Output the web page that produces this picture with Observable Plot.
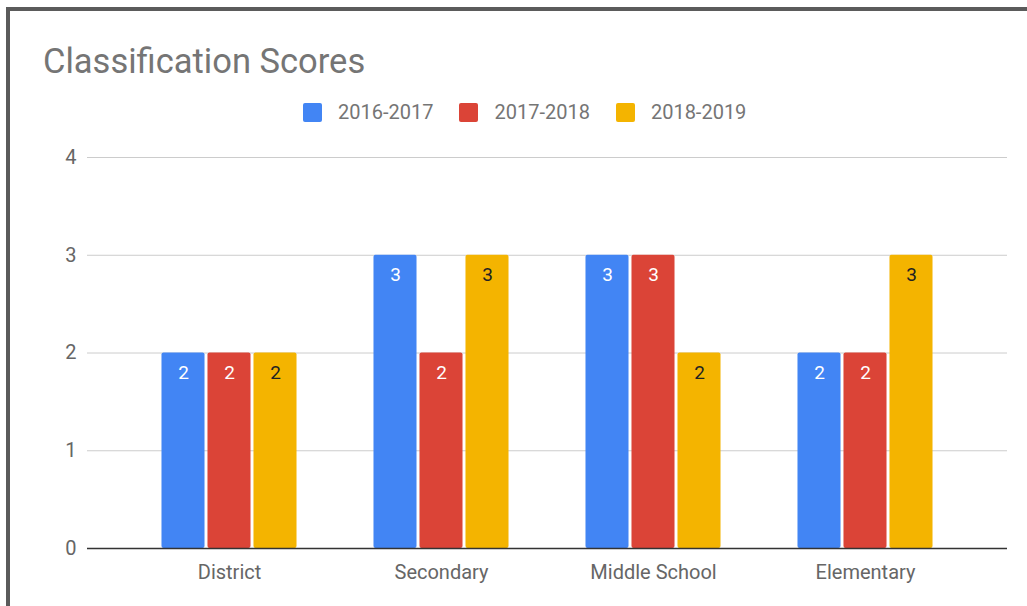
<!DOCTYPE html>
<html>
<head>
<meta charset="utf-8">
<script src="https://cdn.jsdelivr.net/npm/d3@7"></script>
<script src="https://cdn.jsdelivr.net/npm/@observablehq/plot@0.6"></script>
<style>
  html, body { margin: 0; padding: 0; background: #fff; }
  body { width: 1027px; height: 606px; position: relative; overflow: hidden; font-family: Roboto, sans-serif; }
  #frame { position: absolute; left: 6px; top: 7px; right: 0; bottom: 0; border-top: 4px solid #5b5b5b; border-left: 4px solid #5b5b5b; }
  #title { position: absolute; left: 43px; top: 44px; font-size: 34.5px; line-height: 34px; color: #757575; white-space: nowrap; }
  #legend { position: absolute; left: 303px; top: 103px; display: flex; align-items: center; font-size: 20px; color: #757575; line-height: 19px; }
  .item { display: flex; align-items: center; margin-right: 26px; }
  .sw { width: 19px; height: 19px; border-radius: 2px; margin-right: 16px; }
  #chart { position: absolute; left: 0; top: 140px; }
</style>
</head>
<body>
<div id="frame"></div>
<div id="title">Classification Scores</div>
<div id="legend"></div>
<div id="chart"></div>
<script>
const categories = ["District", "Secondary", "Middle School", "Elementary"];
const seriesNames = ["2016-2017", "2017-2018", "2018-2019"];
const values2016 = [2, 3, 3, 2];
const values2017 = [2, 2, 3, 2];
const values2018 = [2, 3, 2, 3];
const yTicks = [0, 1, 2, 3, 4];

const seriesValues = [values2016, values2017, values2018];
const colors = ["#4285f4", "#db4437", "#f4b400"];
const labelColors = ["#ffffff", "#ffffff", "#222222"];

// legend
const legend = document.getElementById("legend");
seriesNames.forEach((name, i) => {
  const item = document.createElement("div");
  item.className = "item";
  const sw = document.createElement("div");
  sw.className = "sw";
  sw.style.background = colors[i];
  const t = document.createElement("span");
  t.textContent = name;
  item.appendChild(sw);
  item.appendChild(t);
  legend.appendChild(item);
});

const width = 1027, height = 466;
const marginLeft = 87, marginRight = 20, marginTop = 17, marginBottom = 58;
const paddingOuter = 0.16;
const step = (width - marginLeft - marginRight) / (categories.length + 2 * paddingOuter);
const barW = 44, gap = 2;
const groupW = seriesNames.length * barW + (seriesNames.length - 1) * gap;

const marks = [
  Plot.ruleY(yTicks.filter(d => d > 0), {y: d => d, stroke: "#cccccc", strokeWidth: 1})
];
seriesValues.forEach((vals, j) => {
  const data = categories.map((c, i) => ({category: c, value: vals[i]}));
  const insetLeft = step / 2 - groupW / 2 + j * (barW + gap);
  const insetRight = step - insetLeft - barW;
  marks.push(Plot.barY(data, {x: "category", y: "value", fill: colors[j], insetLeft, insetRight, rx: 2}));
  const dx = -groupW / 2 + barW / 2 + j * (barW + gap);
  marks.push(Plot.text(data, {x: "category", y: "value", text: d => String(d.value), dx, dy: 20, fill: labelColors[j], fontSize: 19}));
});
marks.push(Plot.ruleY([0], {stroke: "#333333", strokeWidth: 1.5}));

const chart = Plot.plot({
  width, height, marginLeft, marginRight, marginTop, marginBottom,
  style: {fontFamily: "Roboto, sans-serif", fontSize: "20px", color: "#666666", background: "transparent", overflow: "visible"},
  x: {domain: categories, paddingInner: 0, paddingOuter, tickSize: 0, tickPadding: 16, label: null},
  y: {domain: [0, 4], ticks: yTicks, tickSize: 0, tickPadding: 11, label: null, tickFormat: d => String(d)},
  marks
});
document.getElementById("chart").appendChild(chart);
</script>
</body>
</html>
